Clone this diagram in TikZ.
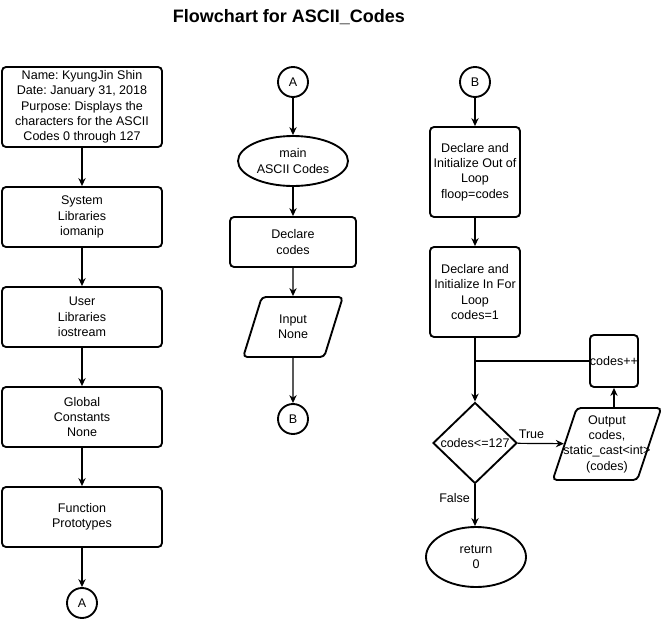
\documentclass[tikz,border=0pt]{standalone}
\usepackage{fontspec}
\setmainfont{Liberation Sans}
\frenchspacing
\usetikzlibrary{arrows.meta,shapes.geometric}

\begin{document}
\begin{tikzpicture}[x=0.75pt, y=-0.75pt,
    every node/.style={font=\fontsize{9.4}{11.5}\selectfont, align=center},
    box/.style={draw, line width=1.4pt, rounded corners=3pt,
      minimum width=120pt, minimum height=45pt, inner sep=1pt},
    conn/.style={draw, circle, line width=1.4pt, minimum size=22.5pt, inner sep=0pt},
    term/.style={draw, ellipse, line width=1.4pt, inner sep=0pt,
      minimum width=82.5pt, minimum height=37.5pt},
    io/.style={draw, trapezium, trapezium left angle=70, trapezium right angle=110,
      trapezium stretches=true, line width=1.4pt, rounded corners=3pt,
      inner sep=1pt},
    decision/.style={draw, diamond, line width=1.4pt, inner sep=0pt,
      minimum width=63pt, minimum height=60.75pt},
    flow/.style={->, line width=0.9pt},
    >={Stealth[length=6pt,width=5.5pt]}]
  % Page is 662 x 619 px, y runs downwards
  \useasboundingbox (0,0) rectangle (662,619);

  % Title
  \node[font=\fontsize{13.5}{16}\selectfont\bfseries] (title) at (289,17)
    {Flowchart for ASCII\_Codes};

  % Left column: header and declarations
  \node[box, minimum height=60pt] (info) at (82,107)
    {Name: KyungJin Shin\\Date: January 31, 2018\\Purpose: Displays the\\
     characters for the ASCII\\Codes 0 through 127};
  \node[box] (syslib) at (82,217) {System\\Libraries\\iomanip};
  \node[box] (usrlib) at (82,317) {User\\Libraries\\iostream};
  \node[box] (glob) at (82,417) {Global\\Constants\\None};
  \node[box] (proto) at (82,517) {Function\\Prototypes};
  \node[conn] (offA) at (82,603) {A};

  % Middle column: main
  \node[conn] (onA) at (293,82) {A};
  \node[term] (main) at (293,161) {main\\ASCII Codes};
  \node[box, minimum width=94.5pt, minimum height=37.5pt] (decl) at (293,242)
    {Declare\\codes};
  \node[io, minimum width=75pt, minimum height=45pt] (input) at (293,327)
    {Input\\None};
  \node[conn] (offB) at (293,419) {B};

  % Right column: the for loop
  \node[conn] (onB) at (475,82) {B};
  \node[box, minimum width=67.5pt, minimum height=67.5pt] (outloop) at (475,172)
    {Declare and\\Initialize Out of\\Loop\\floop=codes};
  \node[box, minimum width=67.5pt, minimum height=67.5pt] (inloop) at (475,292)
    {Declare and\\Initialize In For\\Loop\\codes=1};
  \node[decision] (cond) at (475,443) {codes<=127};
  \node[io, minimum width=82pt, minimum height=54pt, inner xsep=-12pt] (output)
    at (607,444) {Output\\codes,\\static\_cast<int>\\(codes)};
  \node[box, minimum width=36pt, minimum height=39pt, inner xsep=0pt] (incr)
    at (614,361) {codes++};
  \node[term, minimum width=75pt, minimum height=45pt] (ret) at (476,557)
    {return\\0};

  % Straight-down connectors
  \foreach \a/\b in {info/syslib, syslib/usrlib, usrlib/glob, glob/proto,
      proto/offA, onA/main, main/decl, decl/input, input/offB,
      onB/outloop, outloop/inloop, inloop/cond} {
    \draw[flow] (\a) -- (\b);
  }

  % Loop body and exit
  \draw[flow] (cond) -- node[pos=0.3, above] {True} (output);
  \draw[flow] (incr.south |- output.north) -- (incr);
  \draw[line width=0.9pt] (incr) -- (incr -| inloop);
  \draw[flow] (cond) -- node[pos=0.32, left] {False} (cond |- ret.north);

\end{tikzpicture}
\end{document}
